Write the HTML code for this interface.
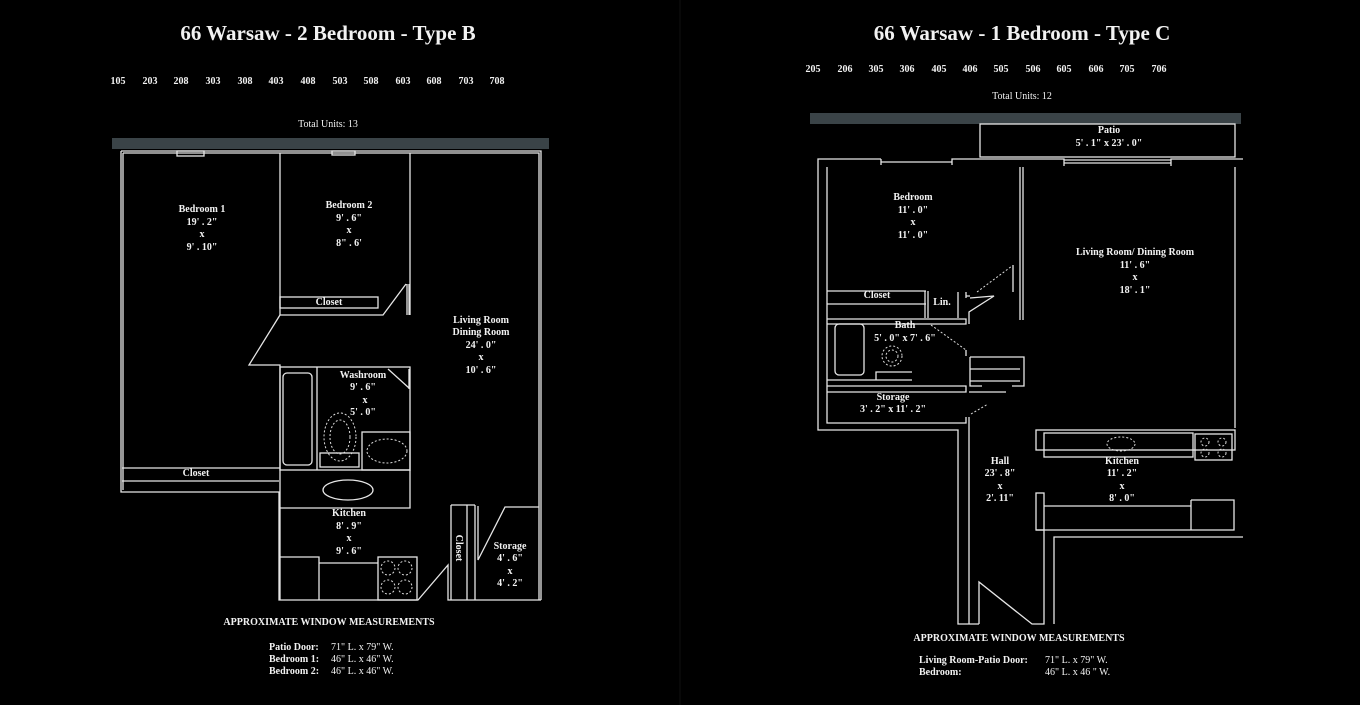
<!DOCTYPE html>
<html><head><meta charset="utf-8"><style>
html,body{margin:0;padding:0;background:#000;}
svg{display:block}
text{font-family:"Liberation Serif",serif;fill:#f2f2f2;font-weight:bold;font-size:10px;text-anchor:middle}
.t{font-size:21px}
.n{font-weight:normal}
.s{stroke:#e6e6e6;stroke-width:1.3;fill:none}
.d{stroke:#ddd;stroke-width:1;fill:none;stroke-dasharray:2 2}
</style></head><body>
<svg width="1360" height="705" viewBox="0 0 1360 705">
<rect width="1360" height="705" fill="#000"/>
<line x1="680" y1="0" x2="680" y2="705" stroke="#111" stroke-width="1"/>
<!-- LEFT -->
<text class="t" x="328" y="40">66 Warsaw - 2 Bedroom - Type B</text>
<g font-size="9.5">
<text x="118" y="84">105</text><text x="150" y="84">203</text><text x="181" y="84">208</text><text x="213" y="84">303</text><text x="245" y="84">308</text><text x="276" y="84">403</text><text x="308" y="84">408</text><text x="340" y="84">503</text><text x="371" y="84">508</text><text x="403" y="84">603</text><text x="434" y="84">608</text><text x="466" y="84">703</text><text x="497" y="84">708</text>
</g>
<text class="n" x="328" y="127">Total Units: 13</text>
<rect x="112" y="138" width="437" height="11" fill="#3a4347"/>
<g class="s">
<path d="M121 151 H541 V600 M123 153 H539 V600"/>
<path d="M121 151 V492 H279 V600 H418 L448 565 V600 H541"/>
<path d="M123 153 V490"/>
<rect x="177" y="151" width="27" height="5"/><rect x="332" y="151" width="23" height="4"/>
<path d="M280 153 V315 M410 153 V315"/>
<rect x="280" y="297" width="98" height="11"/>
<path d="M280 315 H383 L406 284 M407 284 V315 M409 284 V315"/>
<path d="M280 315 L249 365 H280 V600"/>
<rect x="280" y="367" width="130" height="103"/>
<rect x="283" y="373" width="29" height="92" rx="4"/>
<path d="M317 367 V470 M388 369 L409 388 M409 369 V389"/>
<rect x="362" y="432" width="48" height="38"/>
<rect x="320" y="453" width="39" height="14"/>
<path d="M122 468 H280 M122 481 H279"/>
<ellipse cx="348" cy="490" rx="25" ry="10"/>
<path d="M280 508 H410 V470"/>
<path d="M280 557 H319 V600 M319 563 H378"/>
<rect x="378" y="557" width="39" height="43"/>
<path d="M451 505 V600 M467 505 V600 M475 505 V600 M451 505 H475 M478 506 V560 L505 507 H539"/>
</g>
<g class="d">
<ellipse cx="340" cy="437" rx="16" ry="24"/><ellipse cx="340" cy="437" rx="10" ry="17"/>
<ellipse cx="387" cy="451" rx="20" ry="12"/>
<circle cx="388" cy="568" r="7"/><circle cx="405" cy="568" r="7"/><circle cx="388" cy="587" r="7"/><circle cx="405" cy="587" r="7"/>
</g>
<text x="202" y="212">Bedroom 1</text><text x="202" y="225">19' . 2"</text><text x="202" y="237">x</text><text x="202" y="250">9' . 10"</text>
<text x="349" y="208">Bedroom 2</text><text x="349" y="221">9' . 6"</text><text x="349" y="233">x</text><text x="349" y="246">8" . 6'</text>
<text x="329" y="305">Closet</text>
<text x="481" y="323">Living Room</text><text x="481" y="335">Dining Room</text><text x="481" y="348">24' . 0"</text><text x="481" y="360">x</text><text x="481" y="373">10' . 6"</text>
<text x="363" y="378">Washroom</text><text x="363" y="390">9' . 6"</text><text x="365" y="403">x</text><text x="363" y="415">5' . 0"</text>
<text x="196" y="476">Closet</text>
<text x="349" y="516">Kitchen</text><text x="349" y="529">8' . 9"</text><text x="349" y="541">x</text><text x="349" y="554">9' . 6"</text>
<text transform="translate(456,548) rotate(90)">Closet</text>
<text x="510" y="549">Storage</text><text x="510" y="561">4' . 6"</text><text x="510" y="574">x</text><text x="510" y="586">4' . 2"</text>
<text x="329" y="625">APPROXIMATE WINDOW  MEASUREMENTS</text>
<text x="269" y="650" style="text-anchor:start">Patio Door:</text><text class="n" x="331" y="650" style="text-anchor:start">71" L.  x  79" W.</text>
<text x="269" y="662" style="text-anchor:start">Bedroom 1:</text><text class="n" x="331" y="662" style="text-anchor:start">46" L.  x  46" W.</text>
<text x="269" y="674" style="text-anchor:start">Bedroom 2:</text><text class="n" x="331" y="674" style="text-anchor:start">46" L.  x  46" W.</text>
<!-- RIGHT -->
<text class="t" x="1022" y="40">66 Warsaw - 1 Bedroom - Type C</text>
<g font-size="9.5">
<text x="813" y="72">205</text><text x="845" y="72">206</text><text x="876" y="72">305</text><text x="907" y="72">306</text><text x="939" y="72">405</text><text x="970" y="72">406</text><text x="1001" y="72">505</text><text x="1033" y="72">506</text><text x="1064" y="72">605</text><text x="1096" y="72">606</text><text x="1127" y="72">705</text><text x="1159" y="72">706</text>
</g>
<text class="n" x="1022" y="99">Total Units: 12</text>
<rect x="810" y="113" width="431" height="11" fill="#3a4347"/>
<g class="s">
<rect x="980" y="124" width="255" height="33"/>
<path d="M881 159 H818 V430 H958 V624 H979 M827 167 V423 H966 V417 M969 417 V624"/>
<path d="M881 159 V165 M881 162 H952 M952 165 V159 H1064 V166 M1064 160 H1171 M1064 163 H1171 M1171 166 V159 H1243"/>
<path d="M1235 167 V428"/>
<path d="M1020 167 V320 M1023 167 V320 M1013 265 V292"/>
<path d="M827 291 H926 M827 304 H926 M925 291 V318 M928 291 V318 M958 292 V318 M966 292 V298 M966 296 H970 M970 298 L994 296 L969 312 V324"/>
<path d="M827 319 H966 V324 H827"/>
<rect x="835" y="324" width="29" height="51" rx="4"/>
<path d="M876 380 V372 H912 M827 380 H912"/>
<path d="M827 386 H966 V392 H827 M966 350 V356"/>
<path d="M970 357 H1024 V386 H1012 M970 357 V386 H982 M970 369 H1020 M970 381 H1020 M969 392 H1006"/>
<rect x="1036" y="430" width="199" height="20"/>
<rect x="1044" y="433" width="149" height="24"/>
<rect x="1195" y="434" width="37" height="26"/>
<rect x="1036" y="493" width="8" height="37"/>
<path d="M1044 506 H1191 M1191 500 H1234 V530 H1036 M1191 500 V530"/>
<path d="M1054 624 V537 H1243 M1044 530 V624 H1032 L979 582 V624"/>
</g>
<g class="d">
<path d="M977 292 L1012 266 M931 325 L966 350 M971 414 L988 404"/>
<circle cx="892" cy="356" r="10"/><circle cx="892" cy="356" r="6"/>
<ellipse cx="1121" cy="444" rx="14" ry="7"/>
<circle cx="1205" cy="442" r="4"/><circle cx="1222" cy="442" r="4"/><circle cx="1205" cy="453" r="4"/><circle cx="1222" cy="453" r="4"/>
</g>
<text x="1109" y="133">Patio</text><text x="1109" y="146">5' . 1"  x  23' . 0"</text>
<text x="913" y="200">Bedroom</text><text x="913" y="213">11' . 0"</text><text x="913" y="225">x</text><text x="913" y="238">11' .  0"</text>
<text x="1135" y="255">Living Room/ Dining Room</text><text x="1135" y="268">11' .  6"</text><text x="1135" y="280">x</text><text x="1135" y="293">18' . 1"</text>
<text x="877" y="298">Closet</text><text x="942" y="305">Lin.</text>
<text x="905" y="328">Bath</text><text x="905" y="341">5' . 0" x 7' . 6"</text>
<text x="893" y="400">Storage</text><text x="893" y="412">3' . 2"  x  11' . 2"</text>
<text x="1000" y="464">Hall</text><text x="1000" y="476">23' . 8"</text><text x="1000" y="489">x</text><text x="1000" y="501">2'. 11"</text>
<text x="1122" y="464">Kitchen</text><text x="1122" y="476">11' . 2"</text><text x="1122" y="489">x</text><text x="1122" y="501">8' . 0"</text>
<text x="1019" y="641">APPROXIMATE WINDOW  MEASUREMENTS</text>
<text x="919" y="663" style="text-anchor:start">Living Room-Patio Door:</text><text class="n" x="1045" y="663" style="text-anchor:start">71" L.  x  79" W.</text>
<text x="919" y="675" style="text-anchor:start">Bedroom:</text><text class="n" x="1045" y="675" style="text-anchor:start">46" L.  x  46 " W.</text>
</svg>
</body></html>
